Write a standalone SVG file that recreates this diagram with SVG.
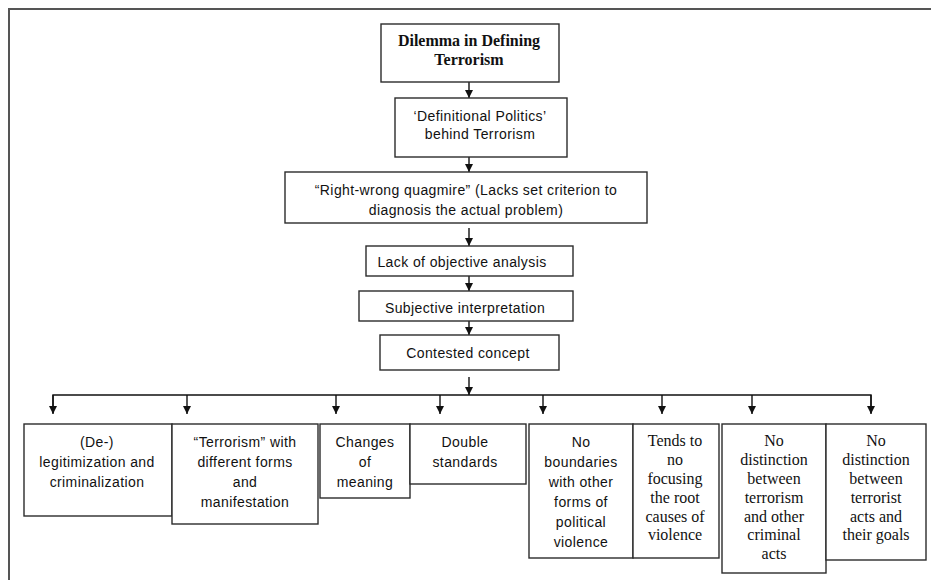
<svg xmlns="http://www.w3.org/2000/svg" width="931" height="580" viewBox="0 0 931 580">
<style>
.box{fill:#fff;stroke:#2b2b2b;stroke-width:1.4}
.s{font-family:"Liberation Sans",Arial,sans-serif;font-size:14px;letter-spacing:0.4px;fill:#111;text-anchor:middle}
.r{font-family:"Liberation Serif","Times New Roman",serif;font-size:16px;fill:#111;text-anchor:middle}
.b{font-family:"Liberation Serif","Times New Roman",serif;font-size:16px;font-weight:bold;fill:#111;text-anchor:middle}
.c{fill:none;stroke:#111;stroke-width:1.4}
.frame{fill:none;stroke:#555;stroke-width:2}
</style>
<defs>
<marker id="ah" viewBox="0 0 10 10" refX="10" refY="5" markerWidth="8" markerHeight="8" markerUnits="userSpaceOnUse" orient="auto">
<path d="M0,0 L10,5 L0,10 z" fill="#111"/>
</marker>
</defs>
<rect width="931" height="580" fill="#fff"/>
<path class="frame" d="M9,581 L9,9 L931,9"/>

<g id="connectors">
<line class="c" x1="469" y1="82" x2="469" y2="98" marker-end="url(#ah)"/>
<line class="c" x1="469" y1="157" x2="469" y2="172" marker-end="url(#ah)"/>
<line class="c" x1="469" y1="228" x2="469" y2="246" marker-end="url(#ah)"/>
<line class="c" x1="469" y1="276" x2="469" y2="291" marker-end="url(#ah)"/>
<line class="c" x1="469" y1="321" x2="469" y2="335" marker-end="url(#ah)"/>
<line class="c" x1="469" y1="377" x2="469" y2="395" marker-end="url(#ah)"/>
<polyline class="c" points="53,413 53,395 871,395 871,413"/>
<line class="c" x1="53" y1="395" x2="53" y2="414" marker-end="url(#ah)"/>
<line class="c" x1="187" y1="395" x2="187" y2="414" marker-end="url(#ah)"/>
<line class="c" x1="336" y1="395" x2="336" y2="414" marker-end="url(#ah)"/>
<line class="c" x1="440" y1="395" x2="440" y2="414" marker-end="url(#ah)"/>
<line class="c" x1="543" y1="395" x2="543" y2="414" marker-end="url(#ah)"/>
<line class="c" x1="662" y1="395" x2="662" y2="414" marker-end="url(#ah)"/>
<line class="c" x1="752" y1="395" x2="752" y2="414" marker-end="url(#ah)"/>
<line class="c" x1="871" y1="395" x2="871" y2="414" marker-end="url(#ah)"/>
</g>

<g id="n1"><rect class="box" x="381" y="24" width="178" height="58"/>
<text class="b" x="469" y="46">Dilemma in Defining</text>
<text class="b" x="469" y="65">Terrorism</text></g>

<g id="n2"><rect class="box" x="395" y="98" width="172" height="59"/>
<text class="s" x="480" y="121">‘Definitional Politics’</text>
<text class="s" x="480" y="139">behind Terrorism</text></g>

<g id="n3"><rect class="box" x="285" y="172" width="362" height="51"/>
<text class="s" x="466" y="195">“Right-wrong quagmire” (Lacks set criterion to</text>
<text class="s" x="466" y="215">diagnosis the actual problem)</text></g>

<g id="n4"><rect class="box" x="366" y="246" width="207" height="30"/>
<text class="s" x="462" y="267">Lack of objective analysis</text></g>

<g id="n5"><rect class="box" x="359" y="291" width="214" height="30"/>
<text class="s" x="465" y="313">Subjective interpretation</text></g>

<g id="n6"><rect class="box" x="380" y="335" width="179" height="35"/>
<text class="s" x="468" y="358">Contested concept</text></g>

<g id="b1"><rect class="box" x="24" y="424" width="148" height="92"/>
<text class="s" x="97" y="447">(De-)</text>
<text class="s" x="97" y="467">legitimization and</text>
<text class="s" x="97" y="487">criminalization</text></g>

<g id="b2"><rect class="box" x="172" y="424" width="146" height="100"/>
<text class="s" x="245" y="447">“Terrorism” with</text>
<text class="s" x="245" y="467">different forms</text>
<text class="s" x="245" y="487">and</text>
<text class="s" x="245" y="507">manifestation</text></g>

<g id="b3"><rect class="box" x="320" y="424" width="90" height="74"/>
<text class="s" x="365" y="447">Changes</text>
<text class="s" x="365" y="467">of</text>
<text class="s" x="365" y="487">meaning</text></g>

<g id="b4"><rect class="box" x="410" y="424" width="116" height="60"/>
<text class="s" x="465" y="447">Double</text>
<text class="s" x="465" y="467">standards</text></g>

<g id="b5"><rect class="box" x="529" y="424" width="104" height="134"/>
<text class="s" x="581" y="447">No</text>
<text class="s" x="581" y="467">boundaries</text>
<text class="s" x="581" y="487">with other</text>
<text class="s" x="581" y="507">forms of</text>
<text class="s" x="581" y="527">political</text>
<text class="s" x="581" y="547">violence</text></g>

<g id="b6"><rect class="box" x="633" y="424" width="86" height="134"/>
<text class="r" x="675" y="446">Tends to</text>
<text class="r" x="675" y="465">no</text>
<text class="r" x="675" y="484">focusing</text>
<text class="r" x="675" y="503">the root</text>
<text class="r" x="675" y="522">causes of</text>
<text class="r" x="675" y="540">violence</text></g>

<g id="b7"><rect class="box" x="722" y="424" width="104" height="149"/>
<text class="r" x="774" y="446">No</text>
<text class="r" x="774" y="465">distinction</text>
<text class="r" x="774" y="484">between</text>
<text class="r" x="774" y="503">terrorism</text>
<text class="r" x="774" y="522">and other</text>
<text class="r" x="774" y="540">criminal</text>
<text class="r" x="774" y="559">acts</text></g>

<g id="b8"><rect class="box" x="826" y="424" width="100" height="136"/>
<text class="r" x="876" y="446">No</text>
<text class="r" x="876" y="465">distinction</text>
<text class="r" x="876" y="484">between</text>
<text class="r" x="876" y="503">terrorist</text>
<text class="r" x="876" y="522">acts and</text>
<text class="r" x="876" y="540">their goals</text></g>
</svg>
